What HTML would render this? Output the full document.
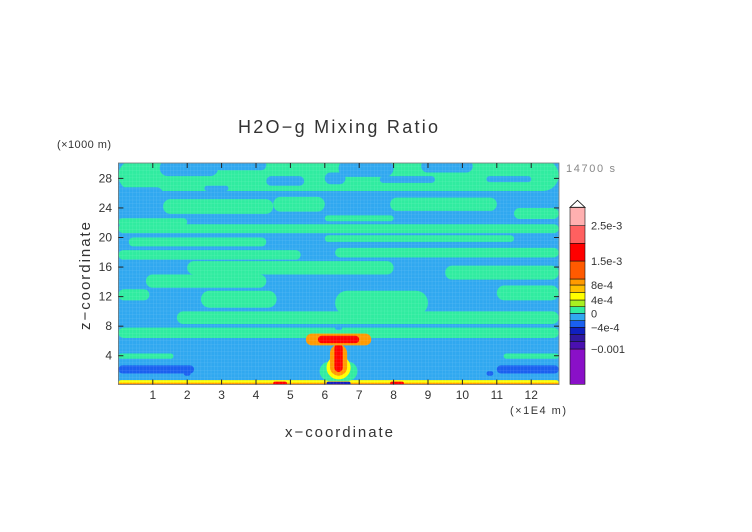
<!DOCTYPE html>
<html><head><meta charset="utf-8">
<style>
html,body{margin:0;padding:0;background:#fff;}
svg{display:block;font-family:"Liberation Sans",sans-serif;}
text{fill:#333;}
</style></head>
<body>
<svg id="chart" width="752" height="532" viewBox="0 0 752 532">
<text x="238" y="133" font-size="18" textLength="200">H2O−g Mixing Ratio</text>
<text x="57" y="148" font-size="11" textLength="54">(×1000 m)</text>
<text x="566" y="172" font-size="11" style="fill:#888" textLength="49">14700 s</text>
<text x="510" y="414" font-size="11" textLength="56">(×1E4 m)</text>
<text x="285" y="437" font-size="15" textLength="108">x−coordinate</text>
<text transform="translate(90,330) rotate(-90)" font-size="15" textLength="108">z−coordinate</text>
<defs><clipPath id="pc"><rect x="118.4" y="163" width="440.6" height="221.5"/></clipPath>
<pattern id="grid" width="3.4" height="3.7" patternUnits="userSpaceOnUse"><path d="M0 0H3.4M0 0V3.7" stroke="#fff" stroke-width="0.5" stroke-opacity="0.25" fill="none"/></pattern></defs>
<g id="field" clip-path="url(#pc)"></g>
<g id="axes"></g>
<g id="cbar"></g>
</svg>
<script>
// data: patches [x0,x1,z0,z1,value] in data units (x ×1E4 m, z ×1000 m)
const xTicks=[1,2,3,4,5,6,7,8,9,10,11,12];
const zTicks=[4,8,12,16,20,24,28];
const levels=[-0.0012,-0.001,-0.0008,-0.0006,-0.0004,-0.0002,0,0.0002,0.0004,0.0006,0.0008,0.001,0.0015,0.002,0.0025,0.003];
const levelColors=["#8a10c8","#4a10b0","#3018a0","#1020c0","#1a60f0","#30a8f0","#30eca0","#a8f020","#ffff00","#ffc000","#ff9a00","#ff5a00","#ff0000","#ff6060","#ffb0b0"];
const cbarLabels=["2.5e-3","1.5e-3","8e-4","4e-4","0","−4e-4","−0.001"];
const cbarLabelValues=[0.0025,0.0015,0.0008,0.0004,0,-0.0004,-0.001];
const baseValue=-0.0001;
const patches=[
[0,12.8,26.3,30.5,0.0001],
[1.2,2.9,28.3,30.5,-0.0001],[2.8,4.3,29.1,30.5,-0.0001],[6.4,8.0,28.2,30.5,-0.0001],[8.8,10.3,28.8,30.5,-0.0001],
[4.3,5.4,27.0,28.3,-0.0001],[6.0,6.6,27.2,28.8,-0.0001],[7.6,9.2,27.4,28.3,-0.0001],[10.7,12.0,27.5,28.3,-0.0001],[2.5,3.2,26.3,27.0,-0.0001],[0,1.3,25.0,26.8,-0.0001],
[1.3,4.5,23.2,25.2,0.0001],[4.5,6.0,23.5,25.5,0.0001],[7.9,11.0,23.6,25.4,0.0001],[0,2.0,21.6,22.6,0.0001],[11.5,12.8,22.5,24,0.0001],[6,8,22.2,23,0.0001],
[0,12.8,20.6,21.8,0.0001],
[0.3,4.3,18.8,20.0,0.0001],[6.0,11.5,19.4,20.3,0.0001],
[0,5.3,17.0,18.3,0.0001],[6.3,12.8,17.3,18.6,0.0001],
[2.0,8.0,15.0,16.8,0.0001],[0.8,4.3,13.2,15.0,0.0001],[9.5,12.8,14.3,16.2,0.0001],
[0,0.9,11.5,13.0,0.0001],[2.4,4.6,10.5,12.8,0.0001],[6.3,9.0,9.5,12.8,0.0001],[11.0,12.8,11.5,13.5,0.0001],
[1.7,12.8,8.3,10.0,0.0001],
[0,12.8,6.4,7.8,0.0001],
[0,1.6,3.6,4.3,0.0001],[11.2,12.8,3.6,4.3,0.0001],
[0,2.2,1.6,2.7,-0.0003],[11.0,12.8,1.6,2.7,-0.0003],[1.9,2.1,1.3,1.9,-0.0003],[10.7,10.9,1.3,1.9,-0.0003],
[0,12.8,0,0.7,0.0005],[0,12.8,0,0.35,0.0009],[4.5,4.9,0,0.5,0.0017],[7.9,8.3,0,0.5,0.0017],
[5.85,6.95,0.6,3.2,0.0001],[6.05,6.75,0.8,4.0,0.0005],[6.15,6.65,1.3,5.5,0.0009],[6.28,6.52,1.8,5.6,0.0017],
[5.45,7.35,5.4,7.0,0.0009],[5.8,7.0,5.7,6.7,0.0017],[6.3,6.5,7.5,8.0,-0.0002],
[6.05,6.75,0,0.5,-0.0005],[6.2,6.6,0,0.25,-0.0009]
];
const X0=118.4,XS=34.4,Z0=385.3,ZS=7.39;
const sx=x=>X0+x*XS, sz=z=>Z0-z*ZS;
const NS="http://www.w3.org/2000/svg";
function colorFor(v){for(let i=0;i<levels.length-1;i++){if(v>=levels[i]&&v<levels[i+1])return levelColors[i];}return v<levels[0]?levelColors[0]:levelColors[levelColors.length-1];}
const field=document.getElementById('field');
const bg=document.createElementNS(NS,'rect');


bg.setAttribute('x',sx(0));bg.setAttribute('y',sz(30.5));bg.setAttribute('width',sx(12.8)-sx(0)+2);bg.setAttribute('height',sz(0)-sz(30.5));bg.setAttribute('fill',colorFor(baseValue));
field.appendChild(bg);
patches.forEach(p=>{
  const r=document.createElementNS(NS,'rect');
  
  
  const x=sx(p[0]),y=sz(p[3]),w=sx(p[1])-sx(p[0]),h=sz(p[2])-sz(p[3]);
  r.setAttribute('x',x);r.setAttribute('y',y);r.setAttribute('width',w);r.setAttribute('height',h);
  const rr=Math.min(w,h)/2;r.setAttribute('rx',rr);r.setAttribute('ry',rr);
  r.setAttribute('fill',colorFor(p[4]));
  field.appendChild(r);
});
const gr=document.createElementNS(NS,'rect');


gr.setAttribute('x',118.4);gr.setAttribute('y',163);gr.setAttribute('width',441);gr.setAttribute('height',222);gr.setAttribute('fill','url(#grid)');
field.appendChild(gr);
// axes
const axes=document.getElementById('axes');
const frame=document.createElementNS(NS,'rect');


frame.setAttribute('x',118.4);frame.setAttribute('y',163);frame.setAttribute('width',440.6);frame.setAttribute('height',221.5);frame.setAttribute('fill','none');frame.setAttribute('stroke','#777');frame.setAttribute('stroke-width','0.8');
axes.appendChild(frame);
xTicks.forEach(t=>{
  [[384.5,-5],[163,5]].forEach(([y,d])=>{const l=document.createElementNS(NS,'line');
  
  
  l.setAttribute('x1',sx(t));l.setAttribute('x2',sx(t));l.setAttribute('y1',y);l.setAttribute('y2',y+d);l.setAttribute('stroke','#222');axes.appendChild(l);});
  const tx=document.createElementNS(NS,'text');
  
  
  tx.setAttribute('x',sx(t));tx.setAttribute('y',399);tx.setAttribute('font-size','12');tx.setAttribute('text-anchor','middle');tx.textContent=t;axes.appendChild(tx);
});
zTicks.forEach(t=>{
  [[118.4,5],[559,-5]].forEach(([x,d])=>{const l=document.createElementNS(NS,'line');
  
  
  l.setAttribute('x1',x);l.setAttribute('x2',x+d);l.setAttribute('y1',sz(t));l.setAttribute('y2',sz(t));l.setAttribute('stroke','#222');axes.appendChild(l);});
  const tx=document.createElementNS(NS,'text');
  
  
  tx.setAttribute('x',112);tx.setAttribute('y',sz(t)+4);tx.setAttribute('font-size','12');tx.setAttribute('text-anchor','end');tx.textContent=t;axes.appendChild(tx);
});
// colorbar (layout: boundary y for each level boundary, bottom to top)
const cb=document.getElementById('cbar');
const cbarLayoutY=[384.3,349,341.7,334.3,327.3,320.7,313.3,306.7,300,292.3,285,279,261,243.3,225.7,207.3];
const cx=570,cw=15;
const cy=v=>{const n=levels.length-1;let i=levels.findIndex((l,k)=>k<n&&v>=l&&v<=levels[k+1]);if(i<0)i=v<levels[0]?0:n-1;
  const f=(v-levels[i])/(levels[i+1]-levels[i]);return cbarLayoutY[i]+f*(cbarLayoutY[i+1]-cbarLayoutY[i]);};
for(let i=0;i<levels.length-1;i++){
  const r=document.createElementNS(NS,'rect');
  
  
  const y1=cy(levels[i+1]),y0=cy(levels[i]);
  r.setAttribute('x',cx);r.setAttribute('y',y1);r.setAttribute('width',cw);r.setAttribute('height',y0-y1);r.setAttribute('fill',levelColors[i]);r.setAttribute('stroke','#111');r.setAttribute('stroke-width','0.6');
  cb.appendChild(r);
}
const CT=cbarLayoutY[cbarLayoutY.length-1];
const tri=document.createElementNS(NS,'polygon');


tri.setAttribute('points',`${cx},${CT} ${cx+cw/2},${CT-7} ${cx+cw},${CT}`);tri.setAttribute('fill','#fff');tri.setAttribute('stroke','#111');tri.setAttribute('stroke-width','0.8');
cb.appendChild(tri);
cbarLabels.forEach((s,i)=>{
  const t=document.createElementNS(NS,'text');
  
  
  t.setAttribute('x',591);t.setAttribute('y',cy(cbarLabelValues[i])+4);t.setAttribute('font-size','11');t.textContent=s;cb.appendChild(t);
});
</script>
</body></html>
